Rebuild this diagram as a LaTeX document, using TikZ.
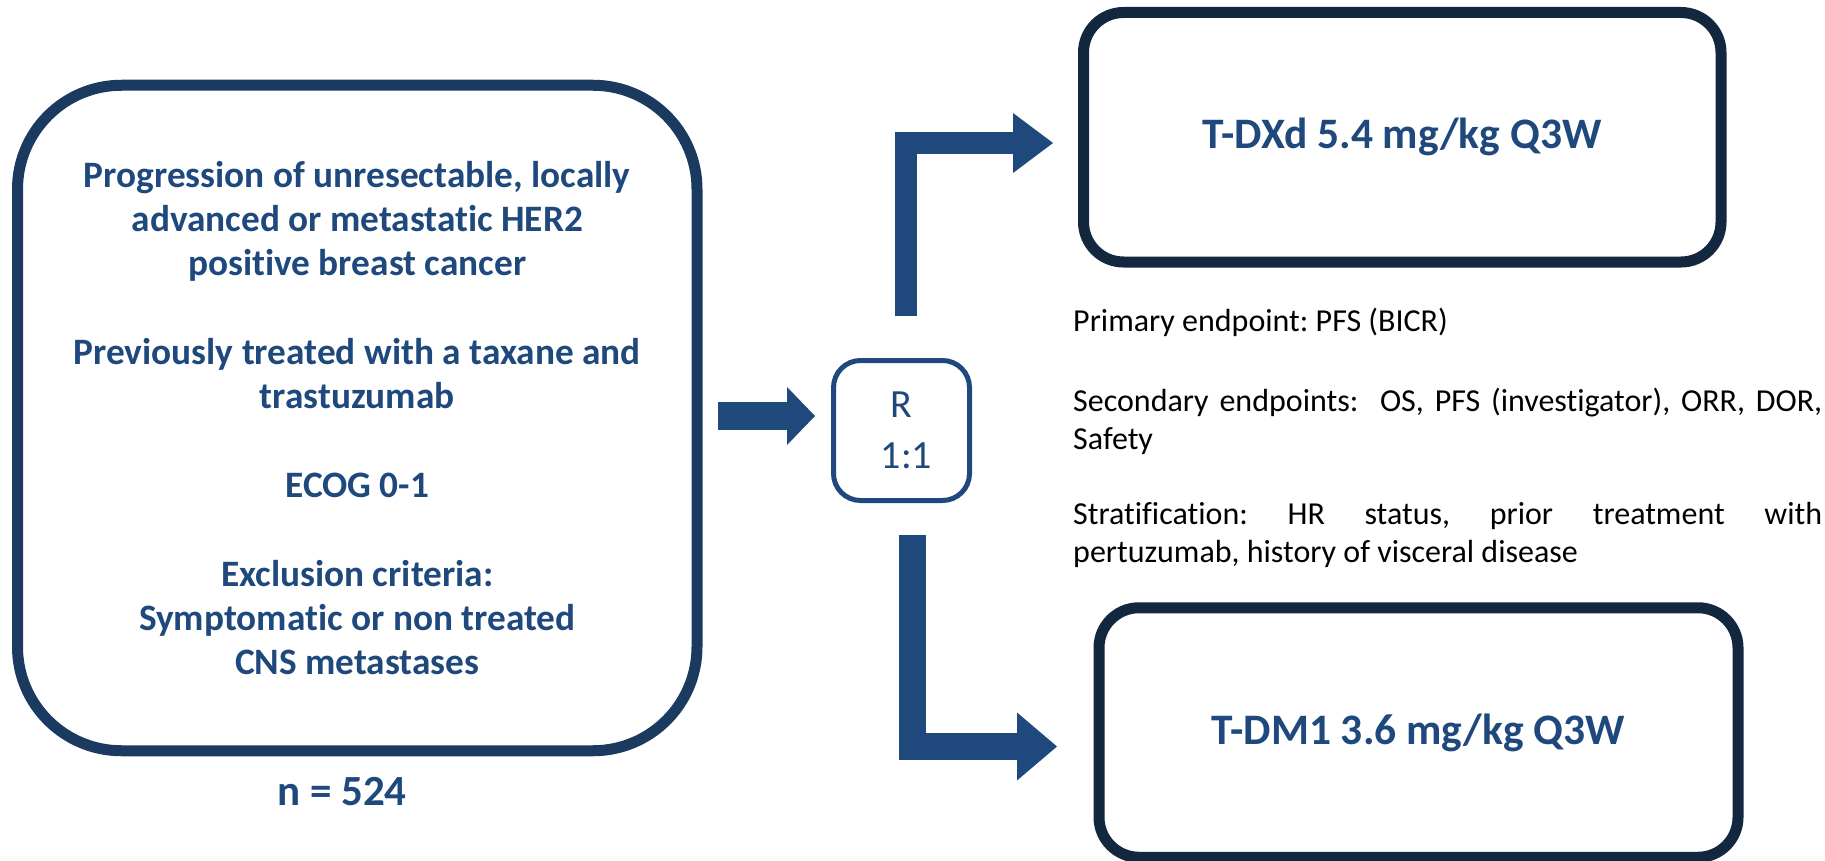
\documentclass[tikz,border=0pt]{standalone}
\usepackage{fontspec}
\setmainfont{Carlito}[Ligatures=NoCommon]
\usetikzlibrary{arrows.meta}

\definecolor{arrowblue}{HTML}{1F497D}
\definecolor{leftnavy}{HTML}{1B3A60}
\definecolor{boxnavy}{HTML}{13273F}

\frenchspacing

\begin{document}
\begin{tikzpicture}[x=1pt,y=-1pt,
  armbox/.style={draw=boxnavy, line width=11pt, rounded corners=40pt, minimum height=249.5pt, text=arrowblue, font=\fontsize{43.5}{50}\selectfont\bfseries},
  endtext/.style={anchor=base west, inner sep=0pt, text width=749pt, align=justify, font=\fontsize{32}{38}\selectfont},
  blockarrow/.style={draw=arrowblue, line join=miter}]

\useasboundingbox (0,0) rectangle (1825,861);
\clip (0,0) rectangle (1825,861);

% patients
\node[draw=leftnavy, line width=11pt, rounded corners=104pt, minimum width=679.5pt, minimum height=665.5pt, align=center, text=arrowblue, font=\fontsize{37.3}{44.3}\selectfont\bfseries] (crit) at (357.25,418)
  {Progression of unresectable, locally\\advanced or metastatic HER2\\positive breast cancer\\[44.3pt]
   Previously treated with a taxane and\\trastuzumab\\[44.3pt]
   ECOG 0-1\\[44.3pt]
   Exclusion criteria:\\Symptomatic or non treated\\CNS metastases};
\node[anchor=base, text=arrowblue, font=\fontsize{43}{50}\selectfont\bfseries] (n) at (342,805) {n = 524};

% randomisation
\node[draw=arrowblue, line width=5pt, rounded corners=27pt, minimum width=136pt, minimum height=140pt, align=center, text=arrowblue, font=\fontsize{40}{51}\selectfont] (rand) at (901.5,430.5) {R\\\hspace*{10pt}1:1};

% arms
\node[armbox, minimum width=637.5pt] (tdxd) at (1402.25,137.25) {T-DXd 5.4 mg/kg Q3W};
\node[armbox, minimum width=639pt] (tdm1) at (1418.5,732.5) {T-DM1 3.6 mg/kg Q3W};

% endpoints
\node[endtext] (prim) at (1073,331) {Primary endpoint: PFS (BICR)};
\node[endtext] (sec) at (1073,411) {Secondary endpoints:\ \ OS, PFS (investigator), ORR, DOR,\linebreak Safety};
\node[endtext] (strat) at (1073,524) {Stratification: HR status, prior treatment with\linebreak pertuzumab, history of visceral disease};

% arrows
\coordinate (midfoot) at (718,416);
\coordinate (midtip) at (815,416);
\coordinate (upfoot) at (906,316);
\coordinate (uptip) at (1053,143);
\coordinate (downfoot) at (912.5,535);
\coordinate (downtip) at (1057,746.5);

\draw[blockarrow, line width=28pt, -{Triangle[length=28pt,width=58pt,line width=0pt]}] (midfoot) -- (midtip);
\draw[blockarrow, line width=22pt, -{Triangle[length=40pt,width=60pt,line width=0pt]}] (upfoot) |- (uptip);
\draw[blockarrow, line width=27pt, -{Triangle[length=40pt,width=68pt,line width=0pt]}] (downfoot) |- (downtip);

\end{tikzpicture}
\end{document}
